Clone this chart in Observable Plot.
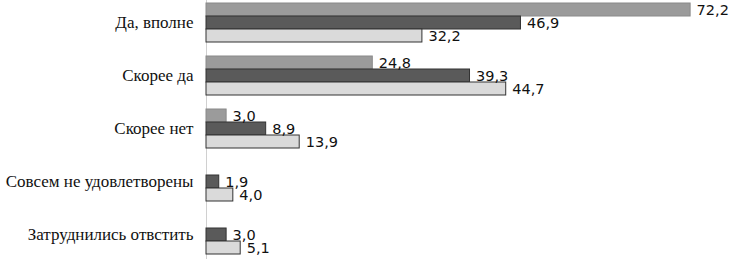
<!DOCTYPE html>
<html>
<head>
<meta charset="utf-8">
<script src="https://cdn.jsdelivr.net/npm/d3@7"></script>
<script src="https://cdn.jsdelivr.net/npm/@observablehq/plot@0.6"></script>
<style>
  html, body { margin: 0; padding: 0; background: #fff; }
  #chart svg { display: block; }
  #chart svg g.cat-labels, #chart svg g.cat-labels text {
    font-family: "Liberation Serif", "Times New Roman", Tinos, "DejaVu Serif", serif !important;
  }
</style>
</head>
<body>
<div id="chart"></div>
<script>
const categories = ["Да, вполне", "Скорее да", "Скорее нет", "Совсем не удовлетворены", "Затруднились отвстить"];
const seriesNames = ["Серия 1", "Серия 2", "Серия 3"];
const values1 = [72.2, 24.8, 3.0, null, null];
const values2 = [46.9, 39.3, 8.9, 1.9, 3.0];
const values3 = [32.2, 44.7, 13.9, 4.0, 5.1];

const seriesValues = [values1, values2, values3];
const fills = ["#9b9b9b", "#5a5a5a", "#dadada"];
const strokes = ["#8a8a8a", "#333333", "#333333"];
const serifStack = "'Liberation Serif', 'Times New Roman', Tinos, 'DejaVu Serif', serif";

const rows = [];
seriesValues.forEach((vals, si) => {
  vals.forEach((v, ci) => {
    if (v != null) rows.push({cat: categories[ci], series: seriesNames[si], value: v});
  });
});

const fmt = v => d3.format(".1f")(v).replace(".", ",");

const marks = [];
marks.push(Plot.ruleX([0], {stroke: "#d0d0d0", insetTop: -7, insetBottom: -7}));
seriesNames.forEach((s, si) => {
  marks.push(Plot.barX(rows.filter(d => d.series === s), {
    fy: "cat", y: "series", x: "value",
    fill: fills[si], stroke: strokes[si], strokeWidth: 1
  }));
});
marks.push(Plot.text(rows, {
  fy: "cat", y: "series", x: "value",
  text: d => fmt(d.value),
  textAnchor: "start", dx: 6,
  fontFamily: "DejaVu Sans", fontSize: 14.5, fill: "#111"
}));
marks.push(Plot.text(categories, {
  fy: d => d, text: d => d,
  frameAnchor: "left", textAnchor: "end", dx: -13,
  fontFamily: serifStack, fontSize: 17, fill: "#111",
  className: "cat-labels"
}));

const chart = Plot.plot({
  width: 729,
  height: 259,
  marginLeft: 206,
  marginRight: 0,
  marginTop: 0,
  marginBottom: 1,
  style: {background: "#fff"},
  x: {domain: [0, 78], axis: null},
  y: {domain: seriesNames, padding: 0, axis: null},
  fy: {domain: categories, paddingInner: 0.222, paddingOuter: 0, axis: null, label: null},
  marks
});
d3.select(chart).selectAll("text").each(function() {
  if (categories.includes(this.textContent.trim())) {
    this.setAttribute("font-family", serifStack);
    this.style.setProperty("font-family", serifStack, "important");
  }
});
document.getElementById("chart").appendChild(chart);
</script>
</body>
</html>
